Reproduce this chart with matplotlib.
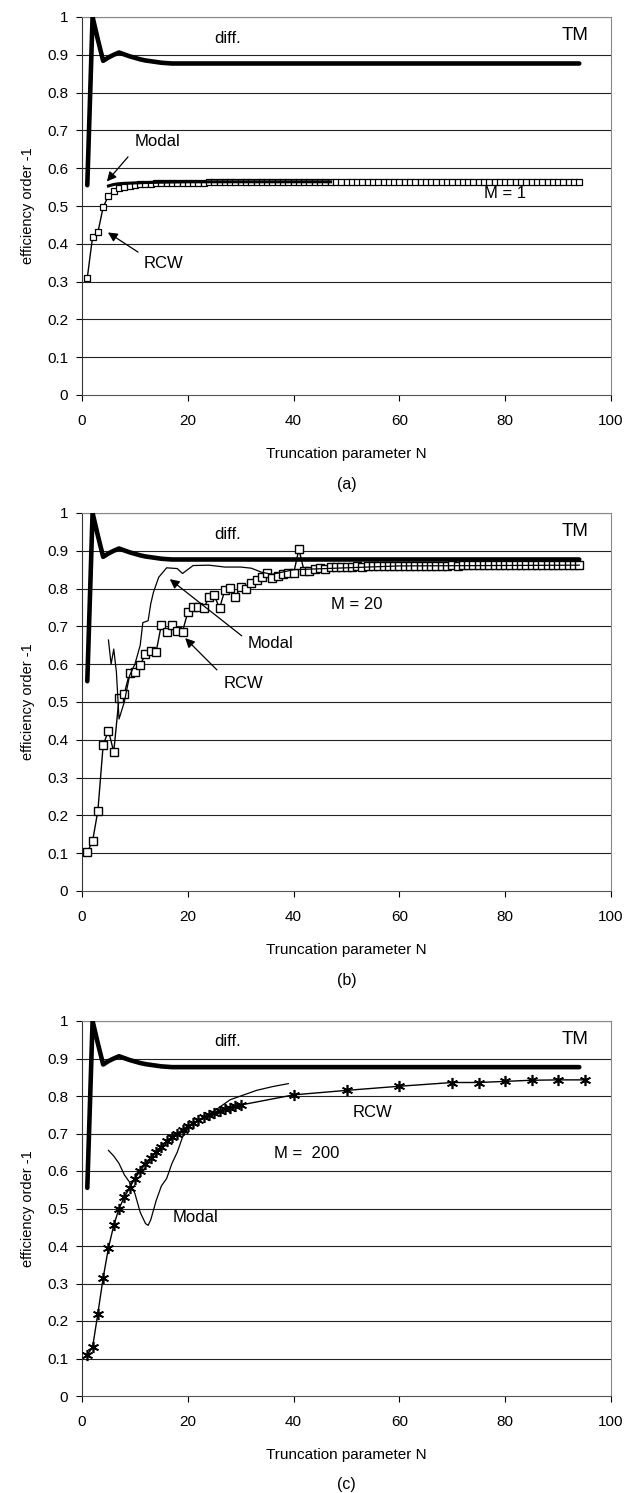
#!/usr/bin/env python3
"""Efficiency of diffraction order -1 versus truncation parameter N.

Three stacked panels (M = 1, 20, 200) compare the RCW and modal methods
with the differential-method reference for TM polarisation.
Writes out.png.
"""

from __future__ import annotations

import matplotlib

matplotlib.use("Agg")
import matplotlib.pyplot as plt  # noqa: E402

plt.rcParams["font.family"] = ["Liberation Sans", "DejaVu Sans"]

# Differential-method reference ("diff."), the same curve in every panel.
diff_n = [1, 2, 3, 4, 5, 6, 7, 8, 9, 10, 11, 12, 13, 14, 15, 16, 17, 18,
          20, 30, 40, 60, 80, 94]
diff_eff = [0.555, 1.0, 0.94, 0.884, 0.893, 0.900, 0.906, 0.901, 0.896,
            0.892, 0.888, 0.885, 0.883, 0.881, 0.879, 0.878, 0.877, 0.877,
            0.877, 0.877, 0.877, 0.877, 0.877, 0.877]

# Panel (a): M = 1
rcw_a_n = list(range(1, 95))
rcw_a_eff = [
    0.310, 0.418, 0.430, 0.497, 0.527, 0.540, 0.547, 0.551, 0.554, 0.556,
    0.557, 0.558, 0.559, 0.560, 0.560, 0.561, 0.561, 0.561, 0.562, 0.562,
    0.562, 0.562, 0.562, 0.563, 0.563, 0.563, 0.563, 0.563, 0.563, 0.563,
    0.563, 0.563, 0.563, 0.563, 0.563, 0.563, 0.563, 0.563, 0.563, 0.563,
    0.563, 0.563, 0.563, 0.563, 0.563, 0.563, 0.563, 0.563, 0.563, 0.563,
    0.563, 0.563, 0.563, 0.563, 0.563, 0.563, 0.563, 0.563, 0.563, 0.563,
    0.563, 0.563, 0.563, 0.563, 0.563, 0.563, 0.563, 0.563, 0.563, 0.563,
    0.563, 0.563, 0.563, 0.563, 0.563, 0.563, 0.563, 0.563, 0.563, 0.563,
    0.563, 0.563, 0.563, 0.563, 0.563, 0.563, 0.563, 0.563, 0.563, 0.563,
    0.563, 0.563, 0.563, 0.563,
]
modal_a_n = [5, 6, 7, 8, 10, 12, 15, 20, 30, 47]
modal_a_eff = [0.553, 0.557, 0.559, 0.560, 0.561, 0.562, 0.563, 0.564,
               0.564, 0.564]

# Panel (b): M = 20
rcw_b_n = list(range(1, 95))
rcw_b_eff = [
    0.103, 0.132, 0.212, 0.386, 0.424, 0.368, 0.510, 0.522, 0.577, 0.580,
    0.598, 0.627, 0.635, 0.632, 0.704, 0.685, 0.704, 0.688, 0.686, 0.738,
    0.750, 0.750, 0.748, 0.777, 0.782, 0.748, 0.796, 0.801, 0.778, 0.804,
    0.799, 0.815, 0.822, 0.831, 0.840, 0.828, 0.834, 0.838, 0.842, 0.840,
    0.904, 0.846, 0.846, 0.852, 0.854, 0.853, 0.856, 0.857, 0.856, 0.858,
    0.858, 0.859, 0.858, 0.859, 0.859, 0.860, 0.859, 0.860, 0.860, 0.860,
    0.860, 0.861, 0.860, 0.861, 0.861, 0.861, 0.861, 0.861, 0.861, 0.862,
    0.861, 0.862, 0.862, 0.862, 0.862, 0.862, 0.862, 0.862, 0.862, 0.862,
    0.862, 0.862, 0.862, 0.862, 0.862, 0.862, 0.862, 0.862, 0.862, 0.862,
    0.862, 0.862, 0.862, 0.862,
]
modal_b_n = [5, 5.5, 6, 6.5, 7, 8, 9, 10, 11, 11.5, 12.5, 13, 13.5, 14.5,
             16, 18, 19, 21, 24, 27, 30, 32, 34, 36, 40, 60, 94]
modal_b_eff = [0.664, 0.600, 0.640, 0.580, 0.455, 0.500, 0.570, 0.600,
               0.650, 0.710, 0.715, 0.760, 0.790, 0.830, 0.855, 0.853,
               0.840, 0.861, 0.862, 0.857, 0.857, 0.854, 0.843, 0.838,
               0.850, 0.860, 0.862]

# Panel (c): M = 200
rcw_c_n = list(range(1, 31)) + [40, 50, 60, 70, 75, 80, 85, 90, 95]
rcw_c_eff = [
    0.110, 0.130, 0.220, 0.315, 0.395, 0.455, 0.500, 0.530, 0.555, 0.580,
    0.600, 0.620, 0.635, 0.650, 0.665, 0.680, 0.690, 0.700, 0.710, 0.720,
    0.728, 0.736, 0.743, 0.749, 0.755, 0.760, 0.765, 0.769, 0.773, 0.776,
    0.803, 0.815, 0.826, 0.836, 0.836, 0.839, 0.842, 0.843, 0.843,
]
modal_c_n = [5, 6, 7, 8, 9, 10, 11, 12, 12.5, 13, 14, 15, 16, 17, 18, 19,
             20, 22, 24, 26, 28, 30, 33, 36, 39]
modal_c_eff = [0.655, 0.640, 0.620, 0.590, 0.570, 0.540, 0.490, 0.460,
               0.455, 0.470, 0.520, 0.560, 0.580, 0.620, 0.650, 0.690,
               0.715, 0.735, 0.750, 0.770, 0.790, 0.800, 0.815, 0.825,
               0.833]

y_ticks = [0, 0.1, 0.2, 0.3, 0.4, 0.5, 0.6, 0.7, 0.8, 0.9, 1.0]
y_tick_labels = ["0", "0.1", "0.2", "0.3", "0.4", "0.5", "0.6", "0.7",
                 "0.8", "0.9", "1"]
x_ticks = [0, 20, 40, 60, 80, 100]

FIG_W, FIG_H = 635, 1493
AX_LEFT, AX_RIGHT = 82, 611


def _arrow(ax, head, tail):
    ax.annotate("", xy=head, xytext=tail,
                arrowprops=dict(arrowstyle="-|>", color="black", lw=0.9,
                                mutation_scale=14, shrinkA=0, shrinkB=0))


def _setup_axes(fig, top_px, bottom_px, caption):
    left = AX_LEFT / FIG_W
    width = (AX_RIGHT - AX_LEFT) / FIG_W
    ax = fig.add_axes([left, 1 - bottom_px / FIG_H, width,
                       (bottom_px - top_px) / FIG_H])
    ax.set_xlim(0, 100)
    ax.set_ylim(0, 1)
    ax.set_xticks(x_ticks)
    ax.set_yticks(y_ticks)
    ax.set_yticklabels(y_tick_labels)
    ax.tick_params(axis="both", direction="out", length=4, width=0.8,
                   labelsize=11)
    ax.tick_params(axis="x", pad=10)
    ax.tick_params(axis="y", pad=6)
    for y in y_ticks[1:]:
        ax.axhline(y, color="#222222", lw=0.8, zorder=1)
    ax.spines["left"].set_color("#333333")
    ax.spines["bottom"].set_color("#555555")
    for side in ("top", "right"):
        ax.spines[side].set_color("#888888")
        ax.spines[side].set_linestyle((0, (2, 1)))
    for spine in ax.spines.values():
        spine.set_linewidth(0.8)

    ax.set_xlabel("Truncation parameter N", fontsize=11)
    ax.xaxis.set_label_coords(0.5, -52 / (bottom_px - top_px))
    ax.set_ylabel("efficiency order -1", fontsize=10.5)
    ax.yaxis.label.set_va("center")
    ax.yaxis.set_label_coords(-(AX_LEFT - 28) / (AX_RIGHT - AX_LEFT), 0.5)

    fig.text((AX_LEFT + AX_RIGHT) / 2 / FIG_W, 1 - (bottom_px + 89) / FIG_H,
             caption, ha="center", va="center", fontsize=11.5)

    # Reference curve and its labels.
    ax.plot(diff_n, diff_eff, color="black", lw=3.3, solid_capstyle="round",
            solid_joinstyle="round", zorder=5)
    ax.text(27.6, 0.944, "diff.", ha="center", va="center", fontsize=12)
    ax.text(93.2, 0.952, "TM", ha="center", va="center", fontsize=13.5)
    return ax


def main() -> None:
    fig = plt.figure(figsize=(FIG_W / 100, FIG_H / 100), dpi=100)

    # (a) M = 1
    ax = _setup_axes(fig, 17, 395, "(a)")
    ax.plot(rcw_a_n, rcw_a_eff, color="black", lw=1.0, marker="s",
            markersize=4.3, markerfacecolor="white", markeredgecolor="black",
            markeredgewidth=0.9, zorder=3)
    ax.plot(modal_a_n, modal_a_eff, color="black", lw=2.2, zorder=4)
    ax.text(14.2, 0.67, "Modal", ha="center", va="center", fontsize=12)
    _arrow(ax, (4.7, 0.565), (8.7, 0.63))
    ax.text(15.5, 0.349, "RCW", ha="center", va="center", fontsize=12)
    _arrow(ax, (4.9, 0.43), (10.6, 0.378))
    ax.text(80, 0.534, "M = 1", ha="center", va="center", fontsize=12)

    # (b) M = 20
    ax = _setup_axes(fig, 513, 891, "(b)")
    ax.plot(rcw_b_n, rcw_b_eff, color="black", lw=1.0, marker="s",
            markersize=5.3, markerfacecolor="white", markeredgecolor="black",
            markeredgewidth=1.0, zorder=3)
    ax.plot(modal_b_n, modal_b_eff, color="black", lw=0.9, zorder=4)
    ax.text(52, 0.757, "M = 20", ha="center", va="center", fontsize=12)
    ax.text(35.7, 0.656, "Modal", ha="center", va="center", fontsize=12)
    _arrow(ax, (16.6, 0.825), (30.2, 0.675))
    ax.text(30.5, 0.55, "RCW", ha="center", va="center", fontsize=12)
    _arrow(ax, (19.5, 0.669), (25.5, 0.585))

    # (c) M = 200
    ax = _setup_axes(fig, 1021, 1396, "(c)")
    ax.plot(rcw_c_n, rcw_c_eff, color="black", lw=1.0, marker=(6, 2, 0),
            markersize=8, markeredgecolor="black", markeredgewidth=1.2,
            zorder=3)
    ax.plot(modal_c_n, modal_c_eff, color="black", lw=0.9, zorder=4)
    ax.text(54.9, 0.757, "RCW", ha="center", va="center", fontsize=12)
    ax.text(42.4, 0.648, "M =  200", ha="center", va="center", fontsize=12)
    ax.text(21.5, 0.475, "Modal", ha="center", va="center", fontsize=12)

    fig.savefig("out.png", dpi=100)
    plt.close(fig)


if __name__ == "__main__":
    main()
